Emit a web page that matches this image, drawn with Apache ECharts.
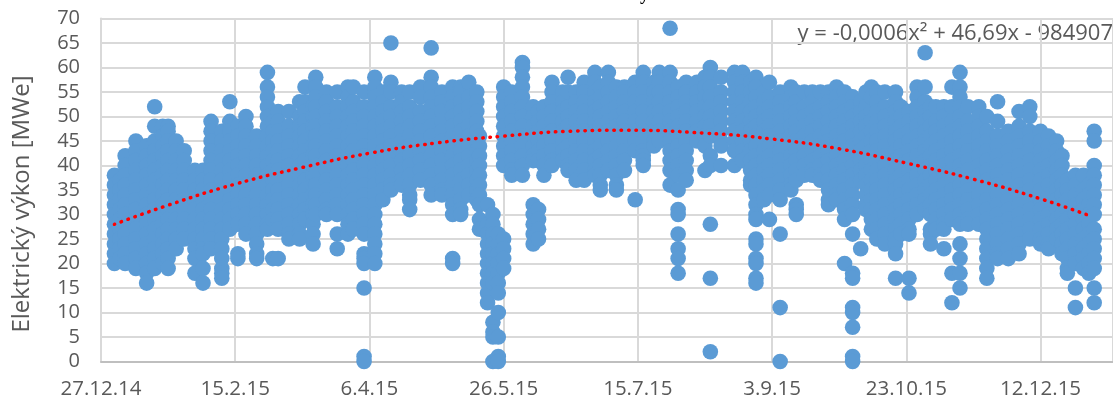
<!DOCTYPE html>
<html>
<head>
<meta charset="utf-8">
<style>html,body{margin:0;background:#fff}#chart{width:1113px;height:400px}</style>
<script src="https://cdn.jsdelivr.net/npm/echarts@6/dist/echarts.min.js"></script>
</head>
<body>
<div id="chart"></div>
<script>
var xTickLabels = ['27.12.14', '15.2.15', '6.4.15', '26.5.15', '15.7.15', '3.9.15', '23.10.15', '12.12.15'];
var equation = 'y = -0,0006x² + 46,69x - 984907';

// each row: day since 27.12.14, then MWe readings of that day
var winter = [
  [5,38,36,34,32,30,28,26,24,22,20],
  [7,37,35,33,31,29,27,25,23,21],
  [9,42,40,38,36,34,32,30,28,26,24,22,20],
  [13,45,43,41,39,37,35,33,31,29,27,25,23,21,19],
  [17,44,42,40,38,36,34,32,30,28,26,24,22,20,18,16],
  [20,52,48,45,43,41,39,37,35,33,31,29,27,25,23,21,19],
  [23,48,46,44,42,40,38,36,34,32,30,28,26,24,22,20],
  [25,48,47,45,43,41,39,37,35,33,31,29,27,25,23,21,19],
  [28,45,43,41,39,37,35,33,31,29,27,25,23],
  [31,43,41,39,37,35,33,31,29,27,25],
  [35,39,37,35,33,31,29,27,25,23,21,18],
  [38,39,37,35,33,31,29,27,25,23,22,19,16],
  [41,49,47,45,43,41,39,37,35,33,31,29,27,25,23],
  [45,47,45,43,41,39,37,35,33,31,29,27,25,23,21,19,18,17],
  [48,53,49,47,45,43,41,39,37,35,33,31,29,27],
  [51,48,46,44,42,40,38,36,34,32,30,28,22,21],
  [54,50,48,46,44,42,40,38,36,34,32,30,28,26],
  [58,46,44,42,40,38,36,34,32,30,28,26,24,22,21],
  [62,59,56,54,52,50,48,46,44,42,40,38,36,34,32,30,28,27],
  [64,49,47,45,43,41,39,37,35,33,31,29,21],
  [66,51,49,47,45,43,41,39,37,35,33,31,29,27,21],
  [70,51,48,46,44,42,40,38,36,34,32,30,28,26,25],
  [74,53,50,48,46,44,42,40,38,36,34,32,30,28,26,25],
  [76,56,53,51,49,47,45,43,41,39,37,35,33,31,29],
  [79,52,50,48,46,44,42,40,38,36,34,32,30,28,26,24],
  [80,58,56,54,52,50,48,46,44,42,40,38,36,34,32,30],
  [84,55,53,51,49,47,45,43,41,39,37,35,33,31,30],
  [88,55,52,50,48,46,44,42,40,38,36,34,32,30,26,23],
  [92,56,54,52,50,48,46,44,42,40,38,36,34,32,30,28,26],
  [94,56,53,51,49,47,45,43,41,39,37,35,33,31,29,27],
  [98,55,52,50,48,46,44,42,40,38,36,34,32,30,28,26,22,21,20,15,1,0]
];
var spring = [
  [102,58,56,54,52,50,48,46,44,42,40,38,36,34,32,30,28,26,24,22,20],
  [105,55,53,51,49,47,45,43,41,39,37,35,33],
  [108,65,57,55,52,50,48,46,44,42,40,38,36,35],
  [112,55,53,51,49,47,45,43,41,39,37,36],
  [115,55,52,50,48,46,44,42,40,38,36,34,33,31],
  [119,56,54,51,49,47,45,43,41,39,37],
  [123,64,58,56,54,52,50,48,46,44,42,40,38,36,34],
  [127,55,53,51,49,47,45,43,41,39,37,35,34],
  [131,56,54,52,50,48,46,44,42,40,38,36,34,32,30,21,20],
  [134,56,55,53,51,49,47,45,43,41,39,37,35,33,31,30],
  [137,57,54,52,50,48,46,44,42,40,38,36,34],
  [140,55,53,51,49,47,45,43,41,39,37,35,33],
  [141,46,44,42,40,38,36,34,32,29,27],
  [144,32,28,26,24,22,20,18,16,14,12],
  [146,30,28,26,24,22,20,18,16,8,6,5,0],
  [148,26,24,22,20,18,16,14,10,5,1,0],
  [150,25,23,21,19],
  [150,56,54,52,50,48,46,44,42,40],
  [153,55,53,51,49,47,45,43,41,39,38],
  [157,61,60,58,56,54,52,50,48,46,44,42,40,38],
  [161,52,50,48,46,44,42,41,32,30,28,26,24],
  [163,51,49,47,45,43,41,31,29,27,25],
  [165,52,50,48,46,44,42,40,38],
  [168,57,55,53,51,49,47,45,43,41,40],
  [172,55,53,51,49,47,45,43,41],
  [174,58,55,52,50,48,46,44,42,40,39],
  [177,55,53,51,49,47,45,43,41,39,37],
  [180,57,55,53,51,49,47,45,43,41,39,37]
];
var summer = [
  [184,59,57,55,53,51,49,47,45,43,41,39,38],
  [186,56,54,52,50,48,46,44,42,40,38,36,35],
  [189,59,57,55,53,51,49,47,45,43,41,39],
  [192,56,54,52,50,48,46,44,42,40,38,36,35],
  [195,56,55,53,51,49,47,45,43,41,39],
  [199,57,55,53,51,49,47,45,43,33],
  [202,59,57,55,53,51,49,47,45,43,42,41,40],
  [206,57,55,53,51,49,47,45,44],
  [208,59,57,55,53,51,49,47,45],
  [212,68,59,57,55,53,51,49,47,45,43,41,39,36],
  [215,56,54,52,50,48,46,44,42,40,38,35,31,30,26,23,21,18],
  [218,57,55,53,51,49,47,45,43,41,39,37],
  [222,57,55,53,51,49,47,45],
  [225,58,56,54,52,50,48,46,44,39],
  [227,60,58,56,54,52,50,48,46,42,40,28,17,2],
  [231,58,55,53,51,49,47,45,44,40],
  [236,59,57,55,53,51,49,47,45,43,40],
  [239,59,57,55,53,51,49,47,45,43,41],
  [242,57,55,53,51,49,47,45,43,41,39,37,36],
  [244,58,56,54,52,50,48,46,44,42,40,38,36,34,32,30,29,25,24,21,20,17,16],
  [247,55,53,51,49,47,45,43,41,39,37,35,33],
  [249,57,54,52,50,48,46,44,42,40,38,36,34,29],
  [253,55,53,51,49,47,45,43,41,39,37,35,33,26,11,0],
  [257,56,54,52,50,48,46,44,42,40,38,36,35],
  [259,55,53,51,49,47,45,43,41,39,37,32,31,30],
  [262,55,52,50,48,46,44,42,40,38]
];
var autumn = [
  [265,55,53,51,49,47,45,43,41,39,38],
  [268,55,52,50,48,46,44,42,40,38,37],
  [271,55,53,51,49,47,45,43,41,39,37,35,33,32],
  [274,56,54,52,50,48,46,44,42,40,38,36,34,33],
  [277,55,53,51,49,47,45,43,41,39,37,35,33,31,29,20],
  [280,54,52,50,48,46,44,42,40,38,36,34,32,30,26,18,17,11,10,7,1,0],
  [283,53,51,49,47,45,43,41,39,37,23],
  [285,55,52,50,48,46,44,42,40,38,36,34,32,31],
  [287,56,54,51,49,47,45,43,41,39,37,35,33,31,29,27],
  [289,55,53,51,49,47,45,43,41,39,37,35,33,31,29,27,25],
  [292,55,52,50,48,46,44,42,40,38,36,34,32,30,28,26,24],
  [296,55,53,51,49,47,45,43,41,39,37,35,33,31,29,27,25,24,22,17],
  [298,52,50,48,46,44,42,40,38,36,34,32,30,28,26],
  [301,51,49,47,45,43,41,39,37,35,33,31,29,27,26,17,14],
  [304,56,54,52,50,48,46,44,42,40,38,36,34,32,30],
  [307,63,56,53,51,49,47,45,43,41,39,37,35,33,31],
  [309,52,50,48,46,44,42,40,38,36,34,32,30,27,26,24],
  [311,52,49,47,45,43,41,39,37,35,33,31,29,27],
  [314,52,50,48,46,44,42,40,38,36,34,32,30,28,27,23],
  [317,56,52,49,47,45,43,41,39,37,35,33,31,29,18,12],
  [320,59,56,54,52,50,48,46,44,42,40,38,36,34,32,30,28,24,21,18,15],
  [323,52,49,47,45,43,41,39,37,35,33,31,29,28],
  [327,52,50,48,46,44,42,40,38,36,34,32,30,28],
  [330,50,47,45,43,41,39,37,35,33,31,29,27,25,23,21,19,17],
  [334,53,49,46,44,42,40,38,36,34,32,30,28,26,24,22,21],
  [338,47,45,43,41,39,37,35,33,31,29,27,25,23,21],
  [342,51,48,46,44,42,40,38,36,34,32,30,28,26,24,22],
  [346,52,50,47,45,43,41,39,37,35,33,31,29,27,25],
  [350,47,45,43,41,39,37,35,33,31,29,27,25,24],
  [353,46,44,42,40,38,36,34,32,30,28,26,24,23],
  [356,45,43,41,39,37,35,33,31,29,27,25],
  [358,42,40,38,36,34,32,30,28,26,24,22],
  [360,37,35,33,31,29,27,25,23,21,19,18],
  [363,38,36,34,32,30,28,26,24,22,20,15,11],
  [366,38,35,33,31,29,27,25,23,21,19],
  [368,36,34,32,30,28,26,24,22,20,18],
  [370,47,45,40,38,36,34,32,30,27,25,23,21,19,15,12]
];

var trendDays = [5, 25, 50, 75, 100, 125, 150, 175, 195, 225, 250, 275, 300, 325, 350, 369];
var trendMwe = [28, 31.9, 36.2, 39.6, 42.5, 44.6, 46, 47, 47.2, 46.6, 45.4, 43.4, 40.5, 37.2, 33.2, 29.6];

function toPoints(rows) {
  var pts = [];
  rows.forEach(function (row) {
    for (var i = 1; i < row.length; i++) {
      pts.push([row[0], row[i]]);
    }
  });
  return pts;
}

var points = toPoints(winter.concat(spring, summer, autumn));
var trend = trendDays.map(function (d, i) { return [d, trendMwe[i]]; });

var textFont = 'Open Sans';
var chart = echarts.init(document.getElementById('chart'));
chart.setOption({
  animation: false,
  backgroundColor: '#fff',
  // v6 shrinks the grid to fit labels unless told not to
  grid: { left: 101, top: 18.5, right: 0, bottom: 38.5, outerBoundsMode: 'none' },
  xAxis: {
    type: 'value',
    min: 0,
    max: 377,
    interval: 50,
    axisLine: { lineStyle: { color: '#BFBFBF', width: 2 } },
    axisTick: { show: false },
    splitLine: { show: true, lineStyle: { color: '#D9D9D9', width: 2 } },
    axisLabel: {
      margin: 17,
      showMaxLabel: false,
      color: '#595959',
      fontFamily: textFont,
      fontSize: 20.5,
      formatter: function (v) { return xTickLabels[v / 50] || ''; }
    }
  },
  yAxis: {
    type: 'value',
    min: 0,
    max: 70,
    interval: 5,
    name: 'Elektrický výkon [MWe]',
    nameLocation: 'middle',
    nameGap: 67,
    nameTextStyle: { color: '#595959', fontFamily: textFont, fontSize: 24, padding: [0, 28, 0, 0] },
    axisLine: { show: true, lineStyle: { color: '#D9D9D9', width: 2 } },
    axisTick: { show: false },
    splitLine: { lineStyle: { color: '#D9D9D9', width: 2 } },
    axisLabel: { margin: 21, color: '#595959', fontFamily: textFont, fontSize: 20 }
  },
  series: [
    {
      type: 'scatter',
      data: points,
      symbolSize: 15.6, // circle radius comes from the smaller side, so one number
      clip: false,
      itemStyle: { color: '#5B9BD5', opacity: 1 }
    },
    {
      type: 'line',
      data: trend,
      smooth: true,
      showSymbol: false,
      z: 5,
      lineStyle: { color: '#FF0000', width: 3.5, type: [0.5, 6.8], cap: 'round' }
    }
  ],
  graphic: [
    {
      type: 'text',
      right: 0,
      top: 23,
      style: { text: equation, fill: '#595959', font: '22px "Open Sans"' }
    },
    {
      type: 'text',
      left: 640,
      top: -14,
      style: { text: 'y', fill: '#000', font: 'bold 18px "Liberation Serif"' }
    }
  ]
});
</script>
</body>
</html>
